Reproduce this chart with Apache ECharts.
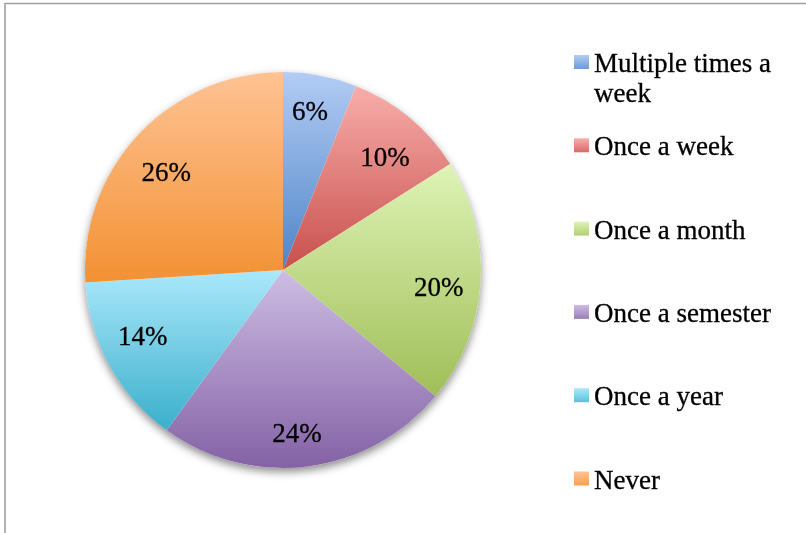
<!DOCTYPE html>
<html>
<head>
<meta charset="utf-8">
<title>How often</title>
<script src="https://cdn.jsdelivr.net/npm/echarts@6/dist/echarts.min.js"></script>
<style>
  html, body { margin: 0; padding: 0; background: #ffffff; }
  #chart { width: 806px; height: 533px; }
</style>
</head>
<body>
<div id="chart"></div>
<script>
// Frequency categories and their share of responses (percent)
const categories = [
  'Multiple times a week',
  'Once a week',
  'Once a month',
  'Once a semester',
  'Once a year',
  'Never'
];
const shares = [6, 10, 20, 24, 14, 26];

// Legend text (first entry wraps onto two lines)
const legendText = [
  'Multiple times a\nweek',
  'Once a week',
  'Once a month',
  'Once a semester',
  'Once a year',
  'Never'
];

// Light-to-dark vertical gradient stops for each slice
const gradTop = ['#b3ccf5', '#f8aeab', '#def3b6', '#cdbde3', '#aae8fb', '#fec394'];
const gradBottom = ['#4f85c6', '#c84f4c', '#a0be58', '#8462a5', '#3bafcb', '#f39133'];

// Fine nudges for the percentage labels (px)
const labelNudge = [[-3, 0], [0, 12], [-4, 9], [-6, 6], [0, -9], [0, 13]];

const FONT = '"Liberation Serif", "DejaVu Serif", serif';
const FONT_SIZE = 27;
const CENTER = [283, 270];
const RADIUS = 198;

// slightly heavier glyphs
const INK = { color: '#000000', textBorderColor: '#000000', textBorderWidth: 0.3 };

// legend swatch: 15x14 square sitting a little above the text middle
// (the trailing move extends the icon box so the square rides high)
const SWATCH = 'path://M0,0h15v14h-15zM0,20';

function grad(i) {
  return new echarts.graphic.LinearGradient(0, 0, 0, 1, [
    { offset: 0, color: gradTop[i] },
    { offset: 1, color: gradBottom[i] }
  ]);
}

const sliceData = categories.map((name, i) => ({
  name: name,
  value: shares[i],
  itemStyle: { color: grad(i) }
}));

const total = shares.reduce((a, b) => a + b, 0);

// One legend block per entry so the rows are spaced evenly
const swatchCenters = [62, 145.3, 228.6, 311.9, 395.2, 478.5];
const legends = categories.map((name, i) => {
  const lines = i === 0 ? 3 : 1;
  return {
    data: [name],
    orient: 'vertical',
    left: 574,
    top: swatchCenters[i] - 7 - (lines * 30) / 2 + 10,
    padding: 0,
    itemWidth: 15,
    itemHeight: 20,
    icon: SWATCH,
    selectedMode: false,
    formatter: () => (i === 0 ? '\n' + legendText[i] : legendText[i]),
    textStyle: Object.assign({
      fontFamily: FONT,
      fontSize: FONT_SIZE,
      lineHeight: 30
    }, INK)
  };
});

const chart = echarts.init(document.getElementById('chart'), null, { renderer: 'canvas' });

chart.setOption({
  animation: false,
  backgroundColor: '#ffffff',
  graphic: [{
    type: 'rect',
    silent: true,
    z: 0,
    shape: { x: 5, y: 3.5, width: 900, height: 700 },
    style: { fill: 'none', stroke: '#a0a0a0', lineWidth: 1.6 }
  }],
  legend: legends,
  series: [
    {
      // soft drop shadow under the whole disc
      type: 'pie',
      silent: true,
      z: 1,
      center: CENTER,
      radius: [0, RADIUS],
      label: { show: false },
      labelLine: { show: false },
      itemStyle: {
        color: '#ffffff',
        shadowBlur: 8,
        shadowOffsetY: 4,
        shadowColor: 'rgba(0,0,0,0.45)'
      },
      data: [{ name: '__disc', value: total }]
    },
    {
      type: 'pie',
      z: 2,
      center: CENTER,
      radius: [0, RADIUS],
      startAngle: 90,
      clockwise: true,
      avoidLabelOverlap: false,
      label: { show: false },
      labelLine: { show: false },
      itemStyle: { borderWidth: 0 },
      emphasis: { scale: false },
      data: sliceData
    },
    {
      // percentage labels placed toward the outer part of each slice
      type: 'pie',
      z: 3,
      silent: true,
      center: CENTER,
      radius: [116, RADIUS],
      startAngle: 90,
      clockwise: true,
      avoidLabelOverlap: false,
      itemStyle: { color: 'rgba(0,0,0,0)', borderWidth: 0 },
      labelLine: { show: false },
      label: Object.assign({
        show: true,
        position: 'inside',
        formatter: '{c}%',
        fontFamily: FONT,
        fontSize: FONT_SIZE
      }, INK),
      data: categories.map((name, i) => ({
        name: name,
        value: shares[i],
        label: { offset: labelNudge[i] }
      }))
    }
  ]
});
</script>
</body>
</html>
